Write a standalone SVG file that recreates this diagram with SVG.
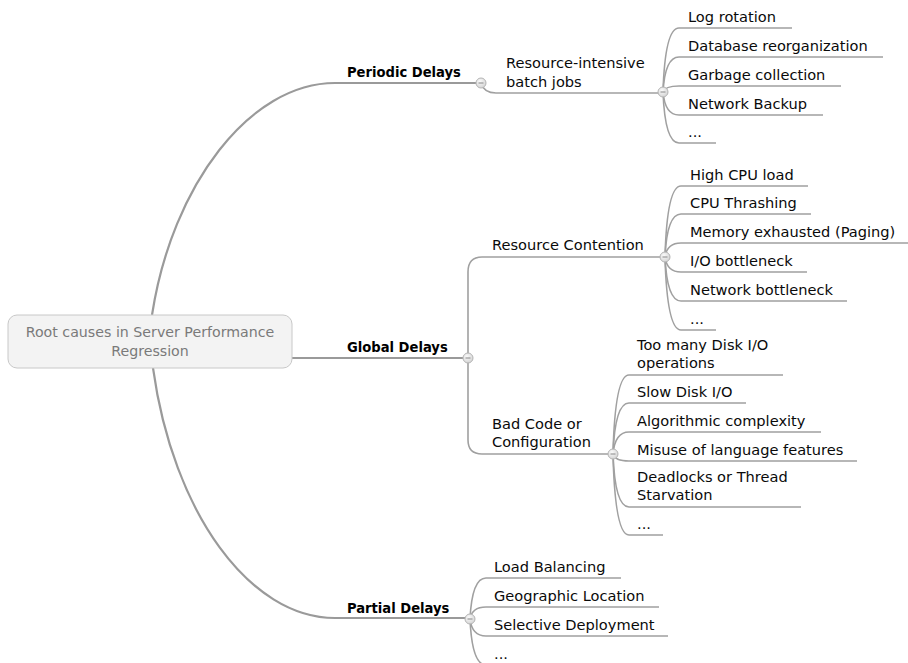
<svg xmlns="http://www.w3.org/2000/svg" width="908" height="663" viewBox="0 0 908 663">
<defs>
<style>
.t{font-family:"DejaVu Sans","Liberation Sans",sans-serif;font-size:14.6px;fill:#0a0a0a}
.b{font-family:"DejaVu Sans Condensed","DejaVu Sans","Liberation Sans",sans-serif;font-stretch:condensed;font-size:14.6px;font-weight:bold;fill:#000}
.r{font-family:"DejaVu Sans","Liberation Sans",sans-serif;font-size:14.2px;fill:#7a7a7a;text-anchor:middle}
.m{fill:none;stroke:#9a9a9a;stroke-width:2.2}
.c{fill:none;stroke:#a0a0a0;stroke-width:1.6}
.k circle{fill:#e6e6e6;stroke:#b4b4b4;stroke-width:1}
.k line{stroke:#888;stroke-width:1}
</style>
<radialGradient id="kg" cx="0.4" cy="0.35" r="0.7"><stop offset="0" stop-color="#fafafa"/><stop offset="1" stop-color="#d2d2d2"/></radialGradient>
</defs>
<rect width="908" height="663" fill="#fff"/>
<g id="connectors">
<path class="m" d="M152,315 C172,185 250,83 335,83 L481,83"/>
<path class="m" d="M292,358 L468,358"/>
<path class="m" d="M153,368 C173,513 250,618 335,618 L470,618"/>
<path class="c" d="M481,83 Q484,93 496,93 L663,93"/>
<path class="c" d="M468,358 L468,272 Q468,257 482,257 L665,257"/>
<path class="c" d="M468,358 L468,440 Q468,454 482,454 L613,454"/>
<g class="c">
<path d="M663,92 Q665,28 679,28 L792,28"/>
<path d="M663,92 Q665,57 679,57 L883,57"/>
<path d="M663,92 Q665,86 679,86 L841,86"/>
<path d="M663,92 Q665,115 679,115 L823,115"/>
<path d="M663,92 Q665,143 679,143 L716,143"/>
<path d="M665,257 Q667,186 681,186 L808,186"/>
<path d="M665,257 Q667,214 681,214 L811,214"/>
<path d="M665,257 Q667,243 681,243 L908,243"/>
<path d="M665,257 Q667,272 681,272 L807,272"/>
<path d="M665,257 Q667,301 681,301 L847,301"/>
<path d="M665,257 Q667,330 681,330 L716,330"/>
<path d="M613,454 Q615,375 629,375 L783,375"/>
<path d="M613,454 Q615,403 629,403 L746,403"/>
<path d="M613,454 Q615,432 629,432 L821,432"/>
<path d="M613,454 Q615,461 629,461 L857,461"/>
<path d="M613,454 Q615,507 629,507 L801,507"/>
<path d="M613,454 Q615,535 629,535 L663,535"/>
<path d="M470,619 Q472,578 486,578 L621,578"/>
<path d="M470,619 Q472,607 486,607 L659,607"/>
<path d="M470,619 Q472,636 486,636 L668,636"/>
<path d="M470,619 Q472,665 486,665 L540,665"/>
</g>
</g>
<g id="root">
<rect x="8" y="315" width="284" height="53" rx="9" fill="#f3f3f3" stroke="#c8c8c8" stroke-width="1"/>
<text class="r" x="150" y="337">Root causes in Server Performance</text>
<text class="r" x="150" y="356">Regression</text>
</g>
<g id="periodic"><text class="b" x="347" y="77">Periodic Delays</text></g>
<g id="batch"><text class="t" x="506" y="68">Resource-intensive</text><text class="t" x="506" y="87">batch jobs</text></g>
<g id="log"><text class="t" x="688" y="22">Log rotation</text></g>
<g id="db"><text class="t" x="688" y="51">Database reorganization</text></g>
<g id="gc"><text class="t" x="688" y="80">Garbage collection</text></g>
<g id="netbk"><text class="t" x="688" y="109">Network Backup</text></g>
<g id="more1"><text class="t" x="688" y="137">...</text></g>
<g id="global"><text class="b" x="347" y="352">Global Delays</text></g>
<g id="contention"><text class="t" x="492" y="250">Resource Contention</text></g>
<g id="cpu"><text class="t" x="690" y="180">High CPU load</text></g>
<g id="thrash"><text class="t" x="690" y="208">CPU Thrashing</text></g>
<g id="mem"><text class="t" x="690" y="237">Memory exhausted (Paging)</text></g>
<g id="io"><text class="t" x="690" y="266">I/O bottleneck</text></g>
<g id="net"><text class="t" x="690" y="295">Network bottleneck</text></g>
<g id="more2"><text class="t" x="690" y="324">...</text></g>
<g id="badcode"><text class="t" x="492" y="429">Bad Code or</text><text class="t" x="492" y="447">Configuration</text></g>
<g id="diskops"><text class="t" x="637" y="350">Too many Disk I/O</text><text class="t" x="637" y="368">operations</text></g>
<g id="slowdisk"><text class="t" x="637" y="397">Slow Disk I/O</text></g>
<g id="algo"><text class="t" x="637" y="426">Algorithmic complexity</text></g>
<g id="misuse"><text class="t" x="637" y="455">Misuse of language features</text></g>
<g id="deadlock"><text class="t" x="637" y="482">Deadlocks or Thread</text><text class="t" x="637" y="500">Starvation</text></g>
<g id="more3"><text class="t" x="637" y="529">...</text></g>
<g id="partial"><text class="b" x="347" y="613">Partial Delays</text></g>
<g id="lb"><text class="t" x="494" y="572">Load Balancing</text></g>
<g id="geo"><text class="t" x="494" y="601">Geographic Location</text></g>
<g id="selective"><text class="t" x="494" y="630">Selective Deployment</text></g>
<g id="more4"><text class="t" x="494" y="659">...</text></g>
<g id="knobs" class="k">
<g><circle cx="481" cy="83" r="5" style="fill:url(#kg)"/><line x1="478.5" y1="83" x2="483.5" y2="83"/></g>
<g><circle cx="663" cy="92" r="5" style="fill:url(#kg)"/><line x1="660.5" y1="92" x2="665.5" y2="92"/></g>
<g><circle cx="468" cy="358" r="5" style="fill:url(#kg)"/><line x1="465.5" y1="358" x2="470.5" y2="358"/></g>
<g><circle cx="665" cy="257" r="5" style="fill:url(#kg)"/><line x1="662.5" y1="257" x2="667.5" y2="257"/></g>
<g><circle cx="613" cy="454" r="5" style="fill:url(#kg)"/><line x1="610.5" y1="454" x2="615.5" y2="454"/></g>
<g><circle cx="470" cy="619" r="5" style="fill:url(#kg)"/><line x1="467.5" y1="619" x2="472.5" y2="619"/></g>
</g>
</svg>
